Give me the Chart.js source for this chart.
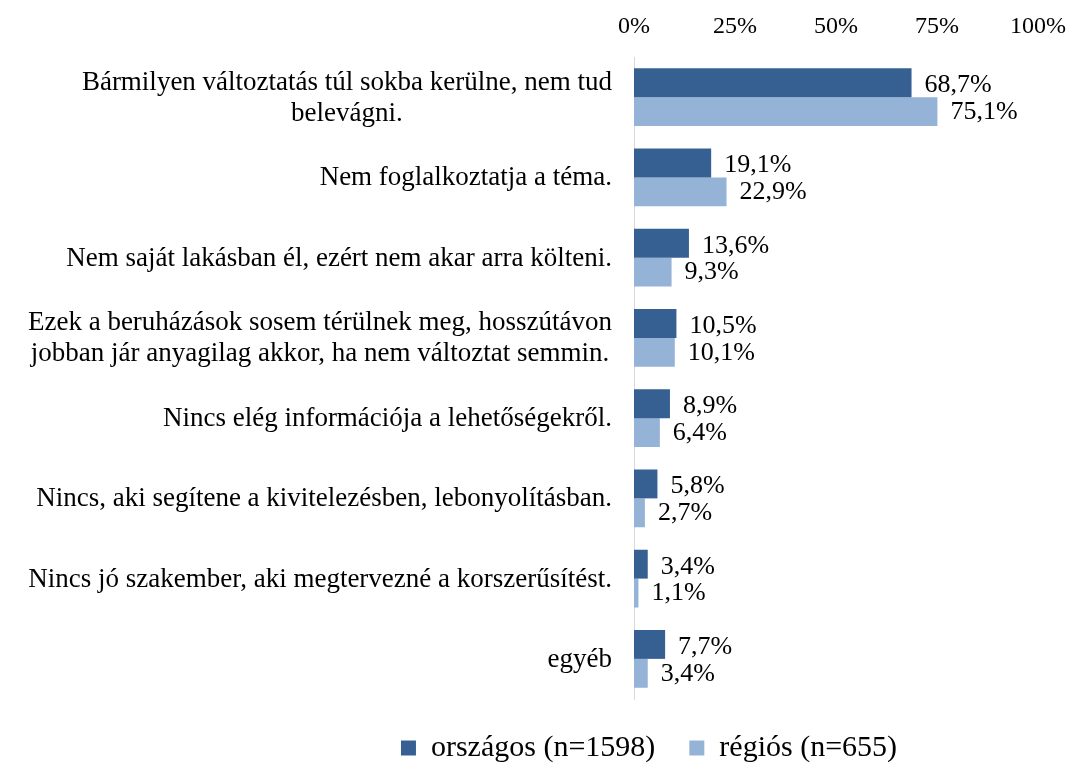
<!DOCTYPE html>
<html>
<head>
<meta charset="utf-8">
<script src="https://cdn.jsdelivr.net/npm/chart.js@4.4.1/dist/chart.umd.min.js"></script>
<style>
  html, body { margin: 0; padding: 0; background: #fff; }
  #wrap { width: 1068px; height: 765px; }
</style>
</head>
<body>
<div id="wrap"><canvas id="c" width="1068" height="765"></canvas></div>
<script>
const CATEGORIES = [
  ["Bármilyen változtatás túl sokba kerülne, nem tud", "belevágni."],
  ["Nem foglalkoztatja a téma."],
  ["Nem saját lakásban él, ezért nem akar arra költeni."],
  ["Ezek a beruházások sosem térülnek meg, hosszútávon", "jobban jár anyagilag akkor, ha nem változtat semmin."],
  ["Nincs elég információja a lehetőségekről."],
  ["Nincs, aki segítene a kivitelezésben, lebonyolításban."],
  ["Nincs jó szakember, aki megtervezné a korszerűsítést."],
  ["egyéb"]
];
const SERIES_NAMES = ["országos (n=1598)", "régiós (n=655)"];
const ORSZAGOS = [68.7, 19.1, 13.6, 10.5, 8.9, 5.8, 3.4, 7.7];
const REGIOS = [75.1, 22.9, 9.3, 10.1, 6.4, 2.7, 1.1, 3.4];
const X_TICKS = [0, 25, 50, 75, 100];

const SERIF = '"Liberation Serif", "Times New Roman", serif';
Chart.defaults.font.family = SERIF;
Chart.defaults.color = '#000';

const fmt = v => v.toFixed(1).replace('.', ',') + '%';

const categoryLabels = {
  id: 'categoryLabels',
  afterDraw(chart) {
    const ctx = chart.ctx;
    const y = chart.scales.y;
    const right = chart.chartArea.left - 22;
    ctx.save();
    ctx.font = '27px ' + SERIF;
    ctx.fillStyle = '#000';
    ctx.textAlign = 'center';
    ctx.textBaseline = 'middle';
    CATEGORIES.forEach((lines, i) => {
      const cy = y.getPixelForValue(i);
      const maxW = Math.max(...lines.map(l => ctx.measureText(l).width));
      const cx = right - maxW / 2;
      lines.forEach((l, j) => {
        ctx.fillText(l, cx, cy + 1 + (j - (lines.length - 1) / 2) * 31);
      });
    });
    ctx.restore();
  }
};

const valueLabels = {
  id: 'valueLabels',
  afterDatasetsDraw(chart) {
    const ctx = chart.ctx;
    ctx.save();
    ctx.font = '26px ' + SERIF;
    ctx.fillStyle = '#000';
    ctx.textAlign = 'left';
    ctx.textBaseline = 'middle';
    chart.data.datasets.forEach((ds, di) => {
      const meta = chart.getDatasetMeta(di);
      meta.data.forEach((bar, i) => {
        ctx.fillText(fmt(ds.data[i]), bar.x + 13, bar.y + (di === 0 ? 2.5 : 0.5));
      });
    });
    ctx.restore();
  }
};

const legendPlacement = {
  id: 'legendPlacement',
  beforeInit(chart) {
    const lg = chart.legend;
    const origFit = lg.fit;
    lg.fit = function () { origFit.call(this); this.height = 66; };
  },
  afterLayout(chart) {
    chart.legend.left += 130;
    chart.legend.right += 130;
  }
};

new Chart(document.getElementById('c'), {
  type: 'bar',
  data: {
    labels: CATEGORIES.map(l => l.join(' ')),
    datasets: [
      { label: SERIES_NAMES[0], data: ORSZAGOS, backgroundColor: '#376092' },
      { label: SERIES_NAMES[1], data: REGIOS, backgroundColor: '#95B3D7' }
    ]
  },
  options: {
    indexAxis: 'y',
    responsive: false,
    animation: false,
    devicePixelRatio: 1,
    datasets: { bar: { categoryPercentage: 0.72, barPercentage: 1.0 } },
    layout: { padding: { left: 0, right: 30, top: 0, bottom: 0 } },
    scales: {
      x: {
        type: 'linear',
        position: 'top',
        min: X_TICKS[0],
        max: X_TICKS[X_TICKS.length - 1],
        afterBuildTicks(scale) { scale.ticks = X_TICKS.map(v => ({ value: v })); },
        ticks: {
          callback: v => v + '%',
          font: { size: 24, family: SERIF },
          color: '#000',
          padding: 16,
          maxRotation: 0
        },
        grid: { display: false, drawTicks: false },
        border: { display: false },
        afterFit(scale) {
          scale.height = 57;
          scale.paddingLeft = 0;
          scale.paddingRight = 0;
        }
      },
      y: {
        type: 'category',
        ticks: { display: false },
        grid: { display: false, drawTicks: false },
        border: { display: true, color: '#d9d9d9', width: 1 },
        afterFit(scale) { scale.width = 634; }
      }
    },
    plugins: {
      tooltip: { enabled: false },
      legend: {
        position: 'bottom',
        labels: {
          boxWidth: 15,
          boxHeight: 15,
          padding: 34,
          color: '#000',
          font: { size: 30, family: SERIF }
        }
      }
    }
  },
  plugins: [legendPlacement, categoryLabels, valueLabels]
});
</script>
</body>
</html>
